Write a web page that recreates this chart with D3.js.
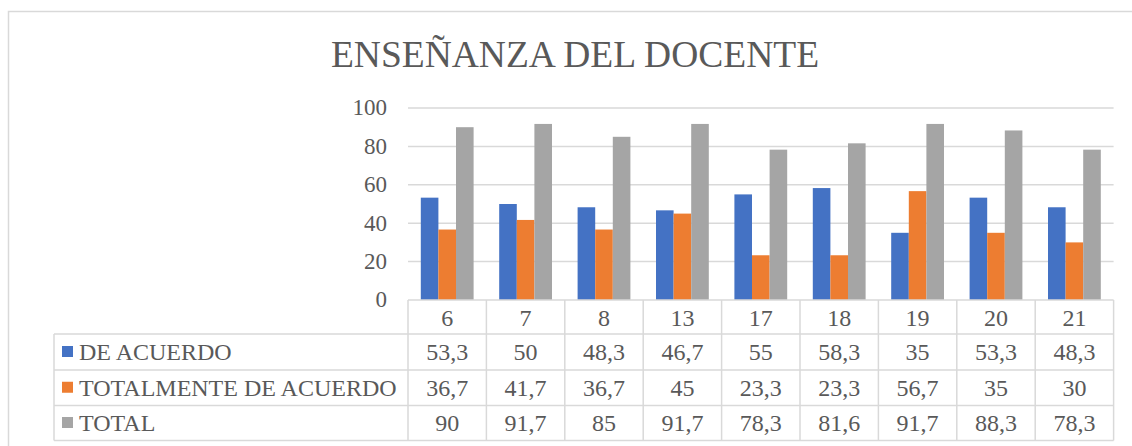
<!DOCTYPE html>
<html>
<head>
<meta charset="utf-8">
<script src="https://cdn.jsdelivr.net/npm/d3@7"></script>
<style>
  body { margin: 0; background: #fff; }
</style>
</head>
<body>
<div id="chart"></div>
<script>
// data
var categories = ["6", "7", "8", "13", "17", "18", "19", "20", "21"];
var seriesNames = ["DE ACUERDO", "TOTALMENTE DE ACUERDO", "TOTAL"];
var deAcuerdo = [53.3, 50, 48.3, 46.7, 55, 58.3, 35, 53.3, 48.3];
var totalmente = [36.7, 41.7, 36.7, 45, 23.3, 23.3, 56.7, 35, 30];
var total = [90, 91.7, 85, 91.7, 78.3, 81.6, 91.7, 88.3, 78.3];
var yTicks = [0, 20, 40, 60, 80, 100];
var colors = ["#4472c4", "#ed7d31", "#a5a5a5"];

var seriesValues = [deAcuerdo, totalmente, total];

var w = 1132, h = 446;
var plotLeft = 408, plotRight = 1113.6;
var plotTop = 108, plotBottom = 300;
var rowTops = [300, 334, 370, 405.5, 440.5];
var gridColor = "#d9d9d9";
var font = "'Liberation Serif', 'Times New Roman', Times, serif";
var textColor = "#595959";
var tableSize = "24px";

var svg = d3.select("#chart")
  .append("svg")
  .attr("width", w)
  .attr("height", h);

// chart frame
svg.append("rect")
  .attr("x", 8.5).attr("y", 11.5)
  .attr("width", 1140).attr("height", 460)
  .attr("fill", "#fff")
  .attr("stroke", gridColor)
  .attr("stroke-width", 1.5);

// title
svg.append("text")
  .attr("x", 575)
  .attr("y", 67)
  .attr("text-anchor", "middle")
  .style("font-family", font)
  .style("fill", textColor)
  .style("font-size", "37.5px")
  .text("ENSEÑANZA DEL DOCENTE");

var xScale = d3.scaleBand()
  .domain(categories)
  .range([plotLeft, plotRight])
  .padding(0);

var xSub = d3.scaleBand()
  .domain(seriesNames)
  .range([12.8, xScale.bandwidth() - 12.8])
  .padding(0);

var yScale = d3.scaleLinear()
  .domain([0, 100])
  .range([plotBottom, plotTop]);

// gridlines
svg.append("g")
  .selectAll("line")
  .data(yTicks.filter(function(d) { return d > 0; }))
  .enter()
  .append("line")
  .attr("x1", plotLeft)
  .attr("x2", plotRight)
  .attr("y1", function(d) { return yScale(d); })
  .attr("y2", function(d) { return yScale(d); })
  .attr("stroke", gridColor)
  .attr("stroke-width", 1.5);

// y tick labels
svg.append("g")
  .selectAll("text")
  .data(yTicks)
  .enter()
  .append("text")
  .attr("x", 387)
  .attr("y", function(d) { return yScale(d); })
  .attr("dy", "0.32em")
  .attr("text-anchor", "end")
  .style("font-family", font)
  .style("fill", textColor)
  .style("font-size", "23px")
  .text(function(d) { return d; });

// bars
seriesNames.forEach(function(name, si) {
  svg.append("g")
    .selectAll("rect")
    .data(seriesValues[si])
    .enter()
    .append("rect")
    .attr("x", function(d, i) { return xScale(categories[i]) + xSub(name); })
    .attr("y", function(d) { return yScale(d); })
    .attr("width", xSub.bandwidth())
    .attr("height", function(d) { return plotBottom - yScale(d); })
    .attr("fill", colors[si]);
});

// data table
var table = svg.append("g");
var fmt = function(v) { return String(v).replace(".", ","); };

// horizontal lines
table.append("line")
  .attr("x1", plotLeft).attr("x2", plotRight)
  .attr("y1", rowTops[0]).attr("y2", rowTops[0])
  .attr("stroke", gridColor).attr("stroke-width", 1.5);
rowTops.slice(1).forEach(function(y) {
  table.append("line")
    .attr("x1", 54).attr("x2", plotRight)
    .attr("y1", y).attr("y2", y)
    .attr("stroke", gridColor).attr("stroke-width", 1.5);
});

// vertical lines
table.append("line")
  .attr("x1", 54).attr("x2", 54)
  .attr("y1", rowTops[1]).attr("y2", rowTops[4])
  .attr("stroke", gridColor).attr("stroke-width", 1.5);
categories.concat(["end"]).forEach(function(c, i) {
  var x = i < categories.length ? xScale(c) : plotRight;
  table.append("line")
    .attr("x1", x).attr("x2", x)
    .attr("y1", rowTops[0]).attr("y2", rowTops[4])
    .attr("stroke", gridColor).attr("stroke-width", 1.5);
});

// category row
table.selectAll(".cat")
  .data(categories)
  .enter()
  .append("text")
  .attr("class", "cat")
  .attr("x", function(d) { return xScale(d) + xScale.bandwidth() / 2; })
  .attr("y", (rowTops[0] + rowTops[1]) / 2 + 1.5)
  .attr("dy", "0.33em")
  .attr("text-anchor", "middle")
  .style("font-family", font)
  .style("fill", textColor)
  .style("font-size", tableSize)
  .text(function(d) { return d; });

// series rows
seriesNames.forEach(function(name, si) {
  var yMid = (rowTops[si + 1] + rowTops[si + 2]) / 2;
  table.append("rect")
    .attr("x", 62).attr("y", yMid - 6)
    .attr("width", 11).attr("height", 11)
    .attr("fill", colors[si]);
  table.append("text")
    .attr("x", 79)
    .attr("y", yMid)
    .attr("dy", "0.33em")
    .style("font-family", font)
    .style("fill", textColor)
    .style("font-size", tableSize)
    .text(name);
  table.append("g")
    .selectAll("text")
    .data(seriesValues[si])
    .enter()
    .append("text")
    .attr("x", function(d, i) { return xScale(categories[i]) + xScale.bandwidth() / 2; })
    .attr("y", yMid)
    .attr("dy", "0.33em")
    .attr("text-anchor", "middle")
    .style("font-family", font)
    .style("fill", textColor)
    .style("font-size", tableSize)
    .text(fmt);
});
</script>
</body>
</html>
